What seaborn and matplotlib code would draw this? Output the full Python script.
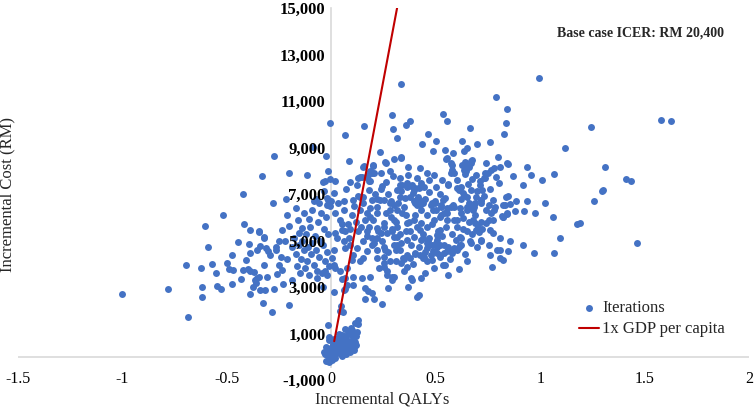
import matplotlib
matplotlib.use("Agg")
import pandas as pd
import matplotlib.pyplot as plt
import seaborn as sns

# (incremental QALY, incremental cost RM), grouped by region
pts_origin = [
    (-0.03, 120), (-0.02, 60), (-0.01, 20), (0.0, 150), (0.01, 90), (0.02, 200), (-0.005, 300),
    (0.005, 420), (0.015, 350), (0.025, 500), (0.03, 280), (0.035, 150), (0.04, 400), (0.045, 620),
    (0.05, 300), (0.055, 180), (0.06, 450), (0.065, 700), (0.07, 350), (0.075, 550), (0.08, 250),
    (0.085, 480), (0.09, 650), (0.095, 380), (0.1, 560), (0.105, 800), (0.11, 420), (0.115, 650),
    (0.12, 900), (0.125, 1070), (0.03, 820), (0.02, 650), (0.01, 560), (-0.01, 700), (0.06, 900),
    (0.08, 1000), (0.1, 1150), (0.04, 150), (0.07, 100), (0.09, 200), (0.012, 250), (0.028, 620),
    (0.058, 560), (0.088, 330), (0.118, 500), (0.048, 850), (0.018, 480), (0.038, 1000), (0.068, 1200),
    (0.098, 950), (0.108, 300), (0.05, 30), (0.0, 40), (-0.02, 380), (0.015, 750), (0.07, 800),
    (0.083, 620), (0.092, 1230), (0.113, 1450), (0.051, 950), (0.091, 1090), (-0.016, 1380),
    (-0.013, 870), (-0.024, 440), (-0.033, 190), (0.126, 1590), (0.13, 1400), (-0.025, -180),
    (-0.01, -220), (0.005, -150), (0.02, -60),
]

pts_left = [
    (-1.004, 2710), (-0.784, 2910), (-0.684, 1730), (-0.697, 3940), (-0.625, 3810), (-0.617, 2990),
    (-0.621, 2570), (-0.605, 5620), (-0.590, 4720), (-0.571, 3990), (-0.552, 3610), (-0.546, 3050),
    (-0.530, 2920), (-0.519, 6080), (-0.501, 4040), (-0.477, 4370), (-0.490, 3770), (-0.469, 3710),
    (-0.477, 3130), (-0.445, 4930), (-0.430, 3340), (-0.423, 7000), (-0.417, 5720), (-0.421, 3730),
    (-0.400, 3770), (-0.387, 3670), (-0.409, 4170), (-0.393, 4830), (-0.387, 5460), (-0.390, 4460),
    (-0.387, 2700), (-0.371, 3630), (-0.366, 3310), (-0.374, 3020), (-0.359, 3170), (-0.345, 5390),
    (-0.355, 4600), (-0.342, 4770), (-0.320, 5100), (-0.344, 3450), (-0.307, 3410), (-0.331, 7760),
    (-0.339, 2880), (-0.315, 2850), (-0.323, 3940), (-0.326, 2310), (-0.313, 4670), (-0.304, 4530),
    (-0.294, 4390), (-0.266, 4600), (-0.278, 6610), (-0.275, 8650), (-0.275, 2920), (-0.283, 1920),
    (-0.263, 4730), (-0.243, 4290), (-0.248, 3940), (-0.234, 3740), (-0.259, 3540), (-0.229, 3110),
    (-0.234, 5460), (-0.212, 6090), (-0.202, 5630), (-0.215, 6800), (-0.204, 7900), (-0.202, 2210),
    (-0.161, 5890), (-0.140, 5550), (-0.156, 5320), (-0.116, 7810), (-0.105, 5920), (-0.344, 5360),
    (-0.323, 5130), (-0.355, 3380), (-0.22, 4960), (-0.19, 4700), (-0.18, 5100), (-0.17, 4400),
    (-0.165, 3900), (-0.155, 4800), (-0.15, 3600), (-0.145, 4200), (-0.14, 5000), (-0.13, 4600),
    (-0.125, 3800), (-0.12, 5300), (-0.115, 4100), (-0.11, 4700), (-0.105, 3500), (-0.10, 5600),
    (-0.095, 4400), (-0.09, 4900), (-0.085, 3950), (-0.08, 5200), (-0.075, 4600), (-0.07, 3700),
    (-0.065, 5800), (-0.06, 4300), (-0.055, 5000), (-0.05, 6200), (-0.045, 3600), (-0.04, 4800),
    (-0.035, 5500), (-0.03, 4100), (-0.025, 6000), (-0.02, 4500), (-0.015, 5300), (-0.01, 3900),
    (-0.005, 6500), (-0.09, 6300), (-0.084, 6690), (-0.072, 6780), (-0.04, 7500), (-0.024, 8640),
    (-0.016, 8000), (-0.008, 10050), (-0.089, 9030), (-0.016, 6750), (-0.005, 7650), (-0.06, 6600),
    (-0.13, 6200), (-0.17, 6400), (-0.19, 3300), (-0.21, 4200), (-0.25, 5000), (-0.029, 7540),
    (-0.037, 7110), (-0.021, 6820), (-0.021, 6540), (-0.029, 3670), (-0.021, 3530), (-0.07, 3400),
    (-0.04, 3000),
]

pts_core = [
    (0.158, 9930), (0.064, 9530), (0.086, 8440), (0.159, 8210), (0.202, 8230), (0.016, 7580),
    (0.091, 7500), (0.130, 7680), (0.146, 7750), (0.178, 7800), (0.194, 7900), (0.183, 7540),
    (0.011, 7040), (0.0, 6720), (0.059, 6680), (0.102, 6750), (0.138, 6890),
    (0.048, 2190), (0.043, 1950), (0.059, 2880), (0.049, 3340), (0.011, 2770), (0.054, 1920),
    (0.067, 2910), (0.075, 3100), (0.104, 3070), (0.106, 3450), (0.147, 3380), (0.186, 3410),
    (0.162, 2950), (0.178, 2810), (0.194, 2740), (0.205, 2490), (0.242, 2270), (0.162, 2490),
    (0.271, 2950), (0.369, 2980), (0.409, 2550), (0.422, 2640), (0.269, 3500), (0.298, 3450),
    (0.533, 3930), (0.544, 3930), (0.612, 3780),
    (0.234, 8790), (0.298, 8510), (0.334, 8540), (0.258, 8360), (0.369, 8180), (0.290, 10380),
    (0.357, 9980), (0.377, 10120), (0.294, 9800), (0.313, 9430), (0.333, 11740), (0.336, 8590),
    (0.261, 8330), (0.205, 7900), (0.282, 8010), (0.294, 7780), (0.369, 7800), (0.425, 8130),
    (0.536, 10450), (0.555, 10120), (0.461, 9560), (0.434, 9160), (0.500, 9290), (0.665, 9830),
    (0.628, 9270), (0.648, 8970), (0.635, 8870), (0.698, 9130), (0.762, 9250), (0.485, 8840),
    (0.546, 8900), (0.584, 8760), (0.549, 8500), (0.571, 8330), (0.579, 8010), (0.574, 7900),
    (0.638, 8370), (0.667, 8400), (0.676, 8470), (0.659, 8180), (0.643, 8010), (0.638, 7860),
    (0.674, 7640), (0.743, 8330), (0.738, 7920), (0.778, 8110), (0.469, 7610), (0.558, 7430),
    (0.237, 7920), (0.242, 7350), (0.218, 6780), (0.253, 6750), (0.285, 6680), (0.329, 7400),
    (0.364, 7470), (0.380, 7350), (0.396, 7180), (0.420, 7250), (0.428, 7490), (0.444, 7300),
    (0.333, 7110), (0.377, 6890), (0.404, 6750), (0.428, 6680), (0.412, 6540), (0.611, 7180),
    (0.622, 7300), (0.635, 6970), (0.654, 7440), (0.698, 7150), (0.711, 7400), (0.730, 6920),
    (0.716, 6750), (0.482, 6630), (0.495, 6710), (0.543, 6820), (0.587, 6460), (0.527, 6460),
    (0.659, 6460), (0.683, 6580), (0.717, 6610), (0.754, 6540), (0.802, 7470), (0.786, 6460),
    (0.348, 3670), (0.380, 3380), (0.388, 3310), (0.333, 4030), (0.364, 3880), (0.444, 4310),
    (0.476, 4390), (0.507, 4460), (0.539, 4460), (0.571, 4600), (0.587, 4670), (0.611, 4740),
    (0.619, 4820), (0.595, 5030), (0.539, 4820), (0.507, 4740), (0.460, 4890), (0.428, 5030),
    (0.396, 5170), (0.364, 5030), (0.333, 4890), (0.301, 4820), (0.253, 4740), (0.221, 4600),
    (0.205, 4890), (0.237, 5320), (0.269, 5320), (0.301, 5170),
    (0.317, 5600), (0.364, 5750), (0.396, 5890), (0.428, 5750), (0.460, 5600), (0.492, 5890),
    (0.524, 6110), (0.555, 5890), (0.587, 5890), (0.619, 6180), (0.651, 6320), (0.683, 6460),
    (0.571, 6460), (0.524, 6540), (0.476, 6540), (0.428, 6610), (0.396, 6680), (0.348, 6460),
    (0.317, 6320), (0.285, 6030), (0.253, 5750), (0.221, 5530),
    (0.22, 5100), (0.25, 5600), (0.27, 4500), (0.29, 5500), (0.31, 4600), (0.33, 5300), (0.35, 4200),
    (0.36, 5400), (0.38, 4800), (0.40, 4400), (0.41, 5600), (0.42, 4700), (0.44, 5300), (0.45, 4500),
    (0.47, 5100), (0.48, 5700), (0.50, 4900), (0.51, 5400), (0.52, 4300), (0.53, 5200), (0.55, 5600),
    (0.56, 4700), (0.58, 5300), (0.60, 5600), (0.62, 5100), (0.63, 5500), (0.64, 4400), (0.66, 5800),
    (0.67, 4900), (0.69, 6100), (0.70, 4700), (0.72, 5500), (0.74, 6300), (0.46, 6100), (0.50, 6300),
    (0.54, 6200), (0.36, 6100), (0.30, 5900), (0.26, 6200), (0.57, 4200), (0.49, 3800), (0.45, 3600),
    (0.39, 4000), (0.31, 4100), (0.29, 3300), (0.23, 3800), (0.25, 4300), (0.43, 3400), (0.56, 3500),
    (0.65, 4100),
    (0.011, 3960), (0.019, 3810), (0.043, 3670), (0.067, 3380), (0.075, 3810), (0.099, 4170),
    (0.106, 4390), (0.123, 4670), (0.138, 4100), (0.154, 4240), (0.170, 4530), (0.194, 4820),
    (0.218, 4240), (0.250, 4030), (0.250, 3880), (0.282, 4100), (0.266, 3670), (0.290, 3450),
    (0.051, 5460), (0.067, 5390), (0.019, 5320), (0.027, 5100), (0.059, 4960), (0.083, 5100),
    (0.091, 4820), (0.067, 4670), (0.011, 4600), (0.003, 4240),
    (0.130, 5390), (0.170, 5390), (0.154, 4960), (0.194, 5100), (0.226, 5390), (0.242, 4960),
    (0.258, 4600), (0.290, 5390), (0.313, 5170), (0.313, 4820), (0.329, 4600),
    (0.377, 5390), (0.425, 5460), (0.440, 5100), (0.464, 4960), (0.480, 4820), (0.504, 5250),
    (0.520, 5460), (0.616, 5170), (0.648, 5390), (0.663, 4960), (0.695, 5460), (0.719, 5030),
    (0.759, 5460), (0.345, 4240), (0.361, 4390), (0.377, 4240), (0.401, 4460), (0.425, 4390),
    (0.440, 4240), (0.457, 4100), (0.480, 4170), (0.488, 4530), (0.520, 4820), (0.552, 4530),
    (0.576, 4460), (0.600, 4600), (0.616, 4820), (0.520, 4390), (0.457, 4670), (0.504, 5030),
    (0.199, 8210), (0.186, 7970), (0.151, 8180), (0.138, 7750), (0.180, 7570), (0.164, 7730),
    (0.123, 7400), (0.337, 7400), (0.361, 7320), (0.385, 7400), (0.401, 7250), (0.425, 7320),
    (0.393, 7040), (0.417, 6890), (0.401, 6610), (0.425, 6540), (0.440, 6610), (0.329, 6890),
    (0.353, 6820), (0.313, 7180), (0.234, 6750), (0.282, 6610), (0.298, 6540), (0.218, 6460),
    (0.186, 6390), (0.170, 6180), (0.186, 6030), (0.138, 6320), (0.154, 6890), (0.181, 7180),
    (0.194, 6750), (0.552, 8540), (0.576, 8260), (0.576, 8040), (0.587, 7900), (0.560, 7400),
    (0.600, 7250), (0.632, 7040), (0.648, 6890), (0.671, 7180), (0.724, 7180), (0.695, 6890),
    (0.719, 6750), (0.775, 6750), (0.831, 6540), (0.823, 6030), (0.767, 6180), (0.680, 6320),
    (0.648, 6460), (0.616, 6390), (0.552, 6390), (0.584, 6540), (0.536, 6750), (0.496, 6610),
    (0.488, 6320), (0.520, 6030), (0.552, 6180), (0.600, 5890), (0.632, 5960), (0.680, 5890),
    (0.704, 5600), (0.743, 5750), (0.628, 8260), (0.636, 8040), (0.648, 8160), (0.667, 8330),
    (0.695, 7830), (0.711, 7540), (0.735, 7680), (0.748, 7900), (0.767, 8040), (0.799, 8610),
    (0.807, 8180), (0.791, 7750), (0.839, 8330),
    (0.02, 6200), (0.04, 5900), (0.06, 6300), (0.08, 5700), (0.10, 6100), (0.12, 5800), (0.14, 5600),
    (0.16, 5900), (0.18, 5600), (0.20, 5900), (0.22, 6200), (0.03, 6600), (0.07, 7200), (0.11, 6500),
    (0.15, 6600), (0.05, 5700), (0.09, 5500), (0.13, 6900), (0.17, 5200), (0.21, 7000), (0.24, 7200),
    (0.27, 7000), (0.28, 6300), (0.32, 6600), (0.34, 6200), (0.31, 5800), (0.37, 5800), (0.40, 6100),
    (0.43, 6300), (0.45, 6800), (0.47, 7100), (0.50, 7300), (0.52, 7000), (0.53, 7600), (0.49, 7800),
    (0.46, 7900), (0.41, 7700), (0.33, 7700), (0.26, 7500), (0.60, 7600), (0.62, 6800), (0.66, 6600),
    (0.69, 6600), (0.73, 7700), (0.76, 7200), (0.78, 6300),
]

pts_right = [
    (0.993, 11980), (0.791, 11190), (0.842, 10650), (1.577, 10190), (1.626, 10130), (0.835, 10050),
    (0.829, 9560), (1.243, 9880), (1.118, 9000), (0.845, 8290), (0.937, 8160), (0.956, 7830),
    (0.870, 7780), (0.918, 7400), (0.937, 6720), (1.009, 7610), (1.064, 7860), (1.311, 8180),
    (1.410, 7650), (1.433, 7540), (1.295, 7150), (1.303, 7180), (1.257, 6710), (1.023, 6620),
    (0.883, 6710), (0.835, 6890), (0.845, 6920), (0.854, 6590), (0.822, 6510), (0.820, 6030),
    (0.842, 6150), (0.878, 6250), (0.923, 6250), (0.975, 6200), (1.060, 6020), (1.178, 5720),
    (1.19, 5750), (1.093, 5090), (1.465, 4900), (0.810, 5100), (0.858, 4970), (0.920, 4800),
    (0.972, 4460), (1.064, 4480), (0.807, 4600), (0.822, 4170), (0.77, 3880), (0.762, 4390),
    (0.794, 4600), (0.754, 4820), (0.775, 5320), (0.715, 5000), (0.706, 5360), (0.675, 5280),
    (0.687, 5750), (0.715, 5780), (0.754, 5890), (0.775, 5890), (0.818, 6060), (0.841, 6180),
    (0.807, 4240), (0.846, 4530),
]

# willingness-to-pay line (1x GDP per capita)
gdp_qaly = [0.014, 0.315]
gdp_cost = [670, 15000]

x_ticks = [-1.5, -1, -0.5, 0, 0.5, 1, 1.5, 2]
x_labels = ["-1.5", "-1", "-0.5", "0", "0.5", "1", "1.5", "2"]
y_ticks = [-1000, 1000, 3000, 5000, 7000, 9000, 11000, 13000, 15000]
y_labels = ["-1,000", "1,000", "3,000", "5,000", "7,000", "9,000", "11,000", "13,000", "15,000"]

df = pd.DataFrame(pts_origin + pts_left + pts_core + pts_right, columns=["qaly", "cost"])

sns.set_theme(style="white")
plt.rcParams["font.family"] = ["Liberation Serif", "DejaVu Serif"]

fig = plt.figure(figsize=(7.54, 4.09), dpi=100)
ax = fig.add_axes([18 / 754, 29 / 409, 731 / 754, 372 / 409])

sns.scatterplot(data=df, x="qaly", y="cost", color="#4472C4", s=25, linewidth=0,
                ax=ax, label="Iterations", zorder=2)
ax.plot(gdp_qaly, gdp_cost, color="#C00000", lw=1.5, label="1x GDP per capita", zorder=3)
ax.axhline(0, color="#D9D9D9", lw=1.2, zorder=1)

ax.set_xlim(-1.5, 2)
ax.set_ylim(-1000, 15000)
ax.set_axisbelow(False)

for s in ["top", "right", "bottom"]:
    ax.spines[s].set_visible(False)
ax.spines["left"].set_position(("data", 0))
ax.spines["left"].set_color("#D9D9D9")
ax.spines["left"].set_linewidth(1.2)
ax.spines["left"].set_bounds(-450, 15000)
ax.spines["left"].set_zorder(1)

ax.set_xticks(x_ticks, x_labels, fontsize=11.5)
ax.set_yticks(y_ticks, y_labels, fontsize=12, fontweight="bold")
ax.tick_params(axis="x", length=0, pad=-6.5, colors="black")
ax.tick_params(axis="y", length=0, pad=4, colors="black")

ax.set_xlabel("Incremental QALYs", fontsize=12)
ax.set_ylabel("Incremental Cost (RM)", fontsize=12)
ax.xaxis.set_label_coords(0.498, -0.03)
ax.yaxis.set_label_coords(-0.003, 0.5)

ax.legend(loc="upper left", bbox_to_anchor=(0.758, 0.232), frameon=False, fontsize=12,
          handlelength=1.2, handletextpad=0.2, borderaxespad=0, labelspacing=0.3)

fig.text(557 / 754, 1 - 33 / 409, "Base case ICER: RM 20,400", fontsize=10,
         fontweight="bold", va="center")

fig.savefig("out.png", dpi=100)
